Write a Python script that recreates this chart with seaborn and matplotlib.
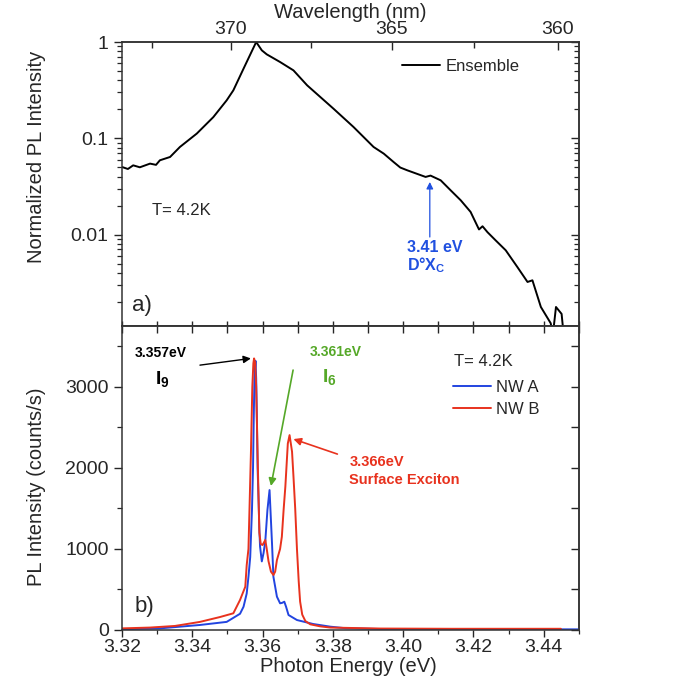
import numpy as np
import pandas as pd
import matplotlib
matplotlib.use("Agg")
import matplotlib.pyplot as plt
import matplotlib.ticker as mticker
import seaborn as sns

# ---------------- data ----------------
ens_energy = [3.3200, 3.3217, 3.3232, 3.3251, 3.3280, 3.3297, 3.3308, 3.3337, 3.3365,
              3.3413, 3.3460, 3.3498, 3.3517, 3.3546, 3.3582, 3.3598, 3.3612, 3.3650,
              3.3688, 3.3727, 3.3802, 3.3859, 3.3916, 3.3945, 3.3973, 3.3992, 3.4012,
              3.4064, 3.4078, 3.4107, 3.4135, 3.4164, 3.4192, 3.4216, 3.4226, 3.4240,
              3.4263, 3.4292, 3.4325, 3.4354, 3.4368, 3.4392, 3.4420, 3.4426, 3.4435,
              3.4451, 3.4457]
ens_value = [0.0504, 0.048, 0.0524, 0.050, 0.0546, 0.053, 0.0591, 0.064, 0.0813,
             0.112, 0.166, 0.248, 0.315, 0.529, 1.0, 0.820, 0.745, 0.620,
             0.508, 0.355, 0.203, 0.131, 0.0813, 0.0693, 0.0567, 0.0497, 0.0465,
             0.0397, 0.041, 0.0366, 0.0289, 0.0227, 0.0172, 0.0113, 0.0122, 0.0106,
             0.00873, 0.00687, 0.00461, 0.00322, 0.00335, 0.00177, 0.0012, 0.0009, 0.00177,
             0.0015, 0.0009]

nwa_energy = [3.3200, 3.3308, 3.3422, 3.3498, 3.3536, 3.3546, 3.3555, 3.3560, 3.3565,
              3.3570, 3.3573, 3.3575, 3.3577, 3.3580, 3.3582, 3.3584, 3.3586, 3.3589,
              3.3591, 3.3593, 3.3598, 3.3603, 3.3608, 3.3614, 3.3620, 3.3627, 3.3631,
              3.3641, 3.3650, 3.3656, 3.3662, 3.3667, 3.3674, 3.3698, 3.3744, 3.3793,
              3.3836, 3.3935, 3.4135, 3.4300, 3.4500]
nwa_value = [10, 20, 62, 100, 200, 287, 450, 657, 900,
             1480, 2000, 2600, 3100, 3320, 3100, 2590, 2000, 1560,
             1250, 1030, 846, 950, 1100, 1480, 1726, 1070, 657,
             411, 329, 335, 349, 287, 185, 123, 74, 41,
             22, 12, 10, 9, 8]

nwb_energy = [3.3200, 3.3280, 3.3351, 3.3422, 3.3479, 3.3517, 3.3536, 3.3551, 3.3555,
              3.3560, 3.3563, 3.3567, 3.3571, 3.3574, 3.3576, 3.3579, 3.3582, 3.3587,
              3.3591, 3.3595, 3.3600, 3.3608, 3.3612, 3.3617, 3.3624, 3.3631, 3.3636,
              3.3641, 3.3650, 3.3655, 3.3660, 3.3665, 3.3672, 3.3677, 3.3684, 3.3688,
              3.3693, 3.3698, 3.3703, 3.3707, 3.3713, 3.3722, 3.3736, 3.3764, 3.3793,
              3.3935, 3.4135, 3.4449]
nwb_value = [20, 30, 50, 100, 160, 206, 370, 534, 800,
             1000, 1500, 2180, 3000, 3290, 3350, 3300, 3000, 1970,
             1200, 1060, 1048, 1110, 1000, 850, 720, 678, 720,
             863, 1000, 1150, 1480, 1770, 2300, 2404, 2200, 1900,
             1500, 1000, 600, 350, 190, 110, 70, 45, 30,
             18, 15, 15]

wl_major = [370, 365, 360]
wl_minor = [372.5, 367.5, 362.5]
energy_ticks = [3.32, 3.34, 3.36, 3.38, 3.40, 3.42, 3.44]
log_ticks = [0.01, 0.1, 1]
log_labels = ["0.01", "0.1", "1"]
count_ticks = [0, 1000, 2000, 3000]

# ---------------- style ----------------
sns.set_style("ticks")
plt.rcParams["font.family"] = ["Liberation Sans", "DejaVu Sans"]
plt.rcParams["mathtext.fontset"] = "custom"
plt.rcParams["mathtext.rm"] = "Liberation Sans"
plt.rcParams["mathtext.bf"] = "Liberation Sans:bold"
plt.rcParams["axes.edgecolor"] = "#333333"
plt.rcParams["axes.linewidth"] = 1.1

C_BLUE = "#2244e0"
C_RED = "#e8321e"
C_GREEN = "#55a828"
C_ANN_BLUE = "#2050e0"

fig = plt.figure(figsize=(6.85, 6.78), dpi=100)
ax1 = fig.add_axes([0.178, 0.519, 0.667, 0.419])
ax2 = fig.add_axes([0.178, 0.0708, 0.667, 0.4484])

XMIN, XMAX = 3.32, 3.45
hc = 1239.84

# ---------------- top panel ----------------
df_ens = pd.DataFrame({"E": ens_energy, "I": ens_value, "s": "Ensemble"})
sns.lineplot(data=df_ens, x="E", y="I", hue="s", palette={"Ensemble": "black"},
             ax=ax1, linewidth=1.4, sort=False)
ax1.set_yscale("log")
ax1.set_xlim(XMIN, XMAX)
ax1.set_ylim(0.00112, 1.0)
ax1.set_xlabel("")
ax1.set_ylabel("Normalized PL Intensity", fontsize=14.5, va="center")
ax1.yaxis.set_label_coords(-0.188, 0.594)

ax1.yaxis.set_major_locator(mticker.FixedLocator(log_ticks))
ax1.yaxis.set_major_formatter(mticker.FixedFormatter(log_labels))
ax1.yaxis.set_minor_locator(mticker.LogLocator(base=10, subs=np.arange(2, 10)))
ax1.yaxis.set_minor_formatter(mticker.NullFormatter())
ax1.tick_params(axis="y", which="major", direction="out", length=6, width=1,
                labelsize=14, left=True, right=False)
ax1.tick_params(axis="y", which="minor", direction="out", length=3.5, width=0.9,
                left=True, right=False)
ax1.xaxis.set_major_locator(mticker.MultipleLocator(0.01))
ax1.xaxis.set_minor_locator(mticker.NullLocator())
ax1.tick_params(axis="x", which="major", direction="in", length=3.5, width=1,
                bottom=True, top=False, labelbottom=False)

r1 = ax1.secondary_yaxis("right")
r1.yaxis.set_major_locator(mticker.FixedLocator(log_ticks))
r1.yaxis.set_minor_locator(mticker.LogLocator(base=10, subs=np.arange(2, 10)))
r1.yaxis.set_major_formatter(mticker.NullFormatter())
r1.yaxis.set_minor_formatter(mticker.NullFormatter())
r1.tick_params(which="major", direction="in", length=6, width=1)
r1.tick_params(which="minor", direction="in", length=3.5, width=0.9)

t1 = ax1.secondary_xaxis("top", functions=(lambda e: hc / e, lambda w: hc / w))
t1.set_xticks(wl_major)
t1.set_xticks(wl_minor, minor=True)
t1.xaxis.set_major_formatter(mticker.FormatStrFormatter("%d"))
t1.xaxis.set_minor_formatter(mticker.NullFormatter())
t1.tick_params(which="major", direction="in", length=6, width=1, labelsize=14, pad=3)
t1.tick_params(which="minor", direction="in", length=4, width=1)
t1.set_xlabel("Wavelength (nm)", fontsize=14.5, labelpad=2)

ax1.legend(loc="upper left", bbox_to_anchor=(0.612, 0.94), frameon=False,
           fontsize=12, handlelength=2.3, handletextpad=0.35, borderpad=0,
           borderaxespad=0)

ax1.text(3.3286, 0.0179, "T= 4.2K", fontsize=12, ha="left", va="center")
ax1.text(3.3229, 0.00185, "a)", fontsize=16, ha="left", va="center")
ax1.annotate("", xy=(3.4076, 0.0352), xytext=(3.4076, 0.00944),
             arrowprops=dict(arrowstyle="-|>", color=C_ANN_BLUE, lw=0.9,
                             mutation_scale=10, shrinkA=0, shrinkB=0))
ax1.text(3.4012, 0.00738, "3.41 eV", fontsize=11.5, fontweight="bold",
         color=C_ANN_BLUE, ha="left", va="center")
ax1.text(3.4012, 0.0048, r"$\mathbf{D°X}_{\mathbf{C}}$", fontsize=11.5,
         color=C_ANN_BLUE, ha="left", va="center")

# ---------------- bottom panel ----------------
df_nw = pd.concat([
    pd.DataFrame({"E": nwa_energy, "I": nwa_value, "s": "NW A"}),
    pd.DataFrame({"E": nwb_energy, "I": nwb_value, "s": "NW B"}),
], ignore_index=True)
sns.lineplot(data=df_nw, x="E", y="I", hue="s",
             palette={"NW A": C_BLUE, "NW B": C_RED}, ax=ax2, linewidth=1.4,
             sort=False)
ax2.set_xlim(XMIN, XMAX)
ax2.set_ylim(0, 3750)
ax2.set_xlabel("Photon Energy (eV)", fontsize=14.5, va="top")
ax2.xaxis.set_label_coords(0.495, -0.088)
ax2.set_ylabel("PL Intensity (counts/s)", fontsize=14.5, va="center")
ax2.yaxis.set_label_coords(-0.188, 0.47)

ax2.xaxis.set_major_locator(mticker.FixedLocator(energy_ticks))
ax2.xaxis.set_major_formatter(mticker.FormatStrFormatter("%.2f"))
ax2.xaxis.set_minor_locator(mticker.MultipleLocator(0.01))
ax2.tick_params(axis="x", which="major", direction="out", length=5, width=1,
                labelsize=14, top=False, pad=1.5)
ax2.tick_params(axis="x", which="minor", direction="out", length=3, width=0.9,
                top=False)
ax2.yaxis.set_major_locator(mticker.FixedLocator(count_ticks))
ax2.yaxis.set_minor_locator(mticker.MultipleLocator(500))
ax2.tick_params(axis="y", which="major", direction="out", length=6, width=1,
                labelsize=14, right=False)
ax2.tick_params(axis="y", which="minor", direction="out", length=3.5, width=0.9,
                right=False)

t2 = ax2.secondary_xaxis("top")
t2.xaxis.set_major_locator(mticker.MultipleLocator(0.01))
t2.xaxis.set_major_formatter(mticker.NullFormatter())
t2.tick_params(direction="in", length=5, width=1)
r2 = ax2.secondary_yaxis("right")
r2.yaxis.set_major_locator(mticker.MultipleLocator(500))
r2.yaxis.set_major_formatter(mticker.NullFormatter())
r2.tick_params(direction="in", length=5.5, width=1)

ax2.legend(loc="upper left", bbox_to_anchor=(0.7236, 0.822), frameon=False,
           fontsize=12, handlelength=2.3, handletextpad=0.3, borderpad=0,
           borderaxespad=0, labelspacing=0.4)
ax2.text(3.4144, 3317, "T= 4.2K", fontsize=12, ha="left", va="center")
ax2.text(3.3237, 284, "b)", fontsize=16, ha="left", va="center")

ax2.text(3.3237, 3416, "3.357eV", fontsize=10, fontweight="bold", color="black",
         ha="left", va="center")
ax2.text(3.3294, 3083, r"$\mathbf{I}_{\mathbf{9}}$", fontsize=14, color="black",
         ha="left", va="center")
ax2.annotate("", xy=(3.3567, 3350), xytext=(3.3422, 3267),
             arrowprops=dict(arrowstyle="-|>", color="black", lw=1,
                             mutation_scale=11, shrinkA=0, shrinkB=0))

ax2.text(3.3733, 3428, "3.361eV", fontsize=10, fontweight="bold", color=C_GREEN,
         ha="left", va="center")
ax2.text(3.3770, 3107, r"$\mathbf{I}_{\mathbf{6}}$", fontsize=14, color=C_GREEN,
         ha="left", va="center")
ax2.annotate("", xy=(3.3624, 1776), xytext=(3.3687, 3206),
             arrowprops=dict(arrowstyle="-|>", color=C_GREEN, lw=1.2,
                             mutation_scale=11, shrinkA=0, shrinkB=0))

ax2.text(3.3847, 2072, "3.366eV", fontsize=10.5, fontweight="bold", color=C_RED,
         ha="left", va="center")
ax2.text(3.3847, 1850, "Surface Exciton", fontsize=10.5, fontweight="bold",
         color=C_RED, ha="left", va="center")
ax2.annotate("", xy=(3.3688, 2355), xytext=(3.3813, 2170),
             arrowprops=dict(arrowstyle="-|>", color=C_RED, lw=1.2,
                             mutation_scale=11, shrinkA=0, shrinkB=0))

fig.savefig("out.png", dpi=100)
